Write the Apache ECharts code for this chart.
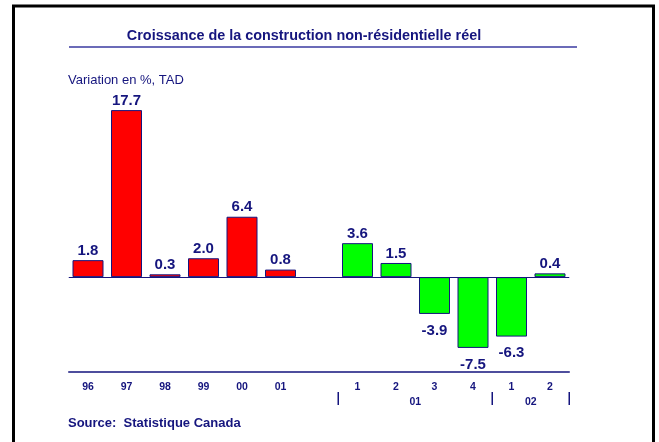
<!DOCTYPE html>
<html>
<head>
<meta charset="utf-8">
<script src="https://cdn.jsdelivr.net/npm/echarts@6/dist/echarts.min.js"></script>
<style>
  html, body { margin: 0; padding: 0; background: #fff; }
  #chart { width: 659px; height: 442px; }
</style>
</head>
<body>
<div id="chart"></div>
<script>
// années
var annualLabels = ['96', '97', '98', '99', '00', '01']
var annualValues = [1.8, 17.7, 0.3, 2.0, 6.4, 0.8]
// trimestres
var quarterLabels = ['1', '2', '3', '4', '1', '2']
var quarterValues = [3.6, 1.5, -3.9, -7.5, -6.3, 0.4]
var yearGroups = ['01', '02']
var yearGroupSizes = [4, 2]

var NAVY = '#15157e'
var FONT = 'Arial, "Liberation Sans", sans-serif'

// un trou entre les années et les trimestres
var categories = annualLabels.concat([''], quarterLabels)
var firstQuarter = annualLabels.length + 1

var annualData = annualValues.slice()
var quarterData = []
for (var i = 0; i < firstQuarter; i++) quarterData.push('-')
for (var j = annualData.length; j < categories.length; j++) annualData.push('-')
quarterData = quarterData.concat(quarterValues)

function labelFor (v) {
  return {
    value: v,
    label: {
      position: v < 0 ? 'bottom' : 'top',
      distance: v < 0 ? 9 : 2
    }
  }
}

function barSeries (name, data, color) {
  return {
    name: name,
    type: 'bar',
    barWidth: 31,
    barGap: '-100%',
    data: data.map(function (v) { return v === '-' ? '-' : labelFor(v) }),
    itemStyle: { color: color, borderColor: NAVY, borderWidth: 1 },
    label: {
      show: true,
      color: NAVY,
      fontFamily: FONT,
      fontWeight: 'bold',
      fontSize: 15,
      formatter: function (p) { return p.value.toFixed(1) }
    },
    silent: true
  }
}

var myChart = echarts.init(document.getElementById('chart'))
var annual = barSeries('annuel', annualData, '#ff0000')
annual.markLine = {
  silent: true,
  symbol: ['none', 'none'],
  label: { show: false },
  lineStyle: { color: NAVY, type: 'solid', width: 1 },
  data: [{ yAxis: 0 }]
}

myChart.setOption({
  animation: false,
  backgroundColor: '#fff',
  grid: { left: 68.75, right: 89.75, top: 88.4, bottom: 70.5 },
  xAxis: {
    type: 'category',
    data: categories,
    axisLine: { onZero: false, lineStyle: { color: NAVY, width: 1.5 } },
    axisTick: { show: false },
    axisLabel: {
      color: NAVY,
      fontFamily: FONT,
      fontWeight: 'bold',
      fontSize: 10.5,
      margin: 10,
      interval: 0
    }
  },
  yAxis: {
    type: 'value',
    min: -10,
    max: 20,
    show: false
  },
  series: [annual, barSeries('trimestriel', quarterData, '#00ff00')]
})

// cadre, titre, sous-titre, source, séparateurs des années
var c0 = myChart.convertToPixel({ xAxisIndex: 0 }, 0)
var c1 = myChart.convertToPixel({ xAxisIndex: 0 }, 1)
var band = c1 - c0
var elements = [
  {
    type: 'rect',
    shape: { x: 13.5, y: 6, width: 640, height: 460 },
    style: { fill: null, stroke: '#000', lineWidth: 3 },
    silent: true
  },
  {
    type: 'text',
    x: 304, y: 36,
    style: {
      text: 'Croissance de la construction non-résidentielle réel',
      fill: NAVY, font: 'bold 14.4px ' + FONT,
      textAlign: 'center', textVerticalAlign: 'middle'
    }
  },
  {
    type: 'line',
    shape: { x1: 69, y1: 47, x2: 577, y2: 47 },
    style: { stroke: '#6b6bb8', lineWidth: 2 }
  },
  {
    type: 'text',
    x: 68, y: 80,
    style: {
      text: 'Variation en %, TAD',
      fill: NAVY, font: '13px ' + FONT,
      textAlign: 'left', textVerticalAlign: 'middle'
    }
  },
  {
    type: 'text',
    x: 68, y: 423,
    style: {
      text: 'Source:  Statistique Canada',
      fill: NAVY, font: 'bold 13px ' + FONT,
      textAlign: 'left', textVerticalAlign: 'middle'
    }
  }
]

var start = firstQuarter
for (var g = 0; g < yearGroups.length; g++) {
  var left = myChart.convertToPixel({ xAxisIndex: 0 }, start) - band / 2
  var right = left + band * yearGroupSizes[g]
  elements.push({
    type: 'line',
    shape: { x1: left, y1: 392, x2: left, y2: 405 },
    style: { stroke: NAVY, lineWidth: 1.5 }
  })
  elements.push({
    type: 'text',
    x: (left + right) / 2, y: 402,
    style: {
      text: yearGroups[g],
      fill: NAVY, font: 'bold 10.5px ' + FONT,
      textAlign: 'center', textVerticalAlign: 'middle'
    }
  })
  if (g === yearGroups.length - 1) {
    elements.push({
      type: 'line',
      shape: { x1: right, y1: 392, x2: right, y2: 405 },
      style: { stroke: NAVY, lineWidth: 1.5 }
    })
  }
  start += yearGroupSizes[g]
}

myChart.setOption({ graphic: { elements: elements } })
</script>
</body>
</html>
